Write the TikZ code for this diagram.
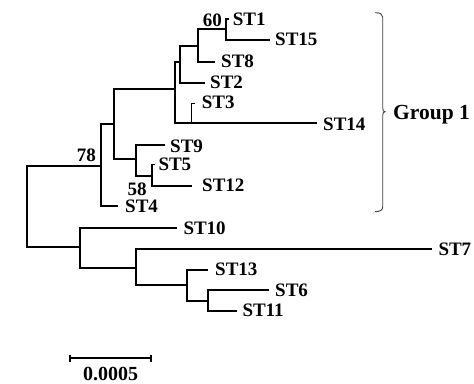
\documentclass[tikz,border=0pt]{standalone}
\usepackage{fontspec}
\setmainfont{Liberation Serif}
\begin{document}
\begin{tikzpicture}[x=1pt,y=-1pt,
  br/.style={line width=2pt, line join=miter},
  thinbr/.style={line width=1.2pt, line join=miter},
  lab/.style={anchor=west, inner sep=0pt, font=\fontsize{19}{19}\selectfont\bfseries},
  bootlab/.style={inner sep=0pt, font=\fontsize{19}{19}\selectfont\bfseries},
  bracepath/.style={line width=0.9pt, black!75}]
\useasboundingbox (0,0) rectangle (474,383);

% internal nodes of the tree
\coordinate (R) at (26.7,206);
\coordinate (A) at (101,166);
\coordinate (B) at (114.3,124);
\coordinate (C) at (174.7,88.5);
\coordinate (F) at (180,61.7);
\coordinate (G) at (198.3,46);
\coordinate (H) at (226,29.3);
\coordinate (I) at (191.7,123.3);
\coordinate (D) at (136,159.3);
\coordinate (E) at (152,176);
\coordinate (J) at (80,247.3);
\coordinate (K) at (135.7,267.7);
\coordinate (L) at (186.7,285);
\coordinate (M) at (208.3,300.7);

% branch tips
\coordinate (t1) at (229,19);
\coordinate (t15) at (270,40);
\coordinate (t8) at (215,61.7);
\coordinate (t2) at (205,82.7);
\coordinate (t3) at (195,103.3);
\coordinate (t14) at (316.7,123.3);
\coordinate (t9) at (165,144.5);
\coordinate (t5) at (155,164.5);
\coordinate (t12) at (192,186);
\coordinate (t4) at (118,205.5);
\coordinate (t10) at (176.7,228.3);
\coordinate (t7) at (431.7,249.3);
\coordinate (t13) at (208.3,270);
\coordinate (t6) at (269,290);
\coordinate (t11) at (236.7,311);

% taxon labels
\node[lab] (l1)  at (232.7,19.5)  {ST1};
\node[lab] (l15) at (275,39.8)    {ST15};
\node[lab] (l8)  at (221,61.5)    {ST8};
\node[lab] (l2)  at (210,82)      {ST2};
\node[lab] (l3)  at (201.7,102)   {ST3};
\node[lab] (l14) at (323,124.5)   {ST14};
\node[lab] (l9)  at (170,146)     {ST9};
\node[lab] (l5)  at (158.3,164.7) {ST5};
\node[lab] (l12) at (202,185.5)   {ST12};
\node[lab] (l4)  at (125,206.3)   {ST4};
\node[lab] (l10) at (183.3,228.5) {ST10};
\node[lab] (l7)  at (438.3,249.5) {ST7};
\node[lab] (l13) at (215,269.5)   {ST13};
\node[lab] (l6)  at (275,290)     {ST6};
\node[lab] (l11) at (242.3,310.5) {ST11};

% bootstrap values
\node[bootlab, anchor=east] (b60) at (222,20.5)  {60};
\node[bootlab, anchor=east] (b78) at (96,155.5)  {78};
\node[bootlab, anchor=west] (b58) at (127.3,189.3) {58};

% branches
\draw[br] (R) |- (A);  \draw[br] (R) |- (J);
\draw[br] (A) |- (B);  \draw[br] (A) |- (t4);
\draw[br] (B) |- (C);  \draw[br] (B) |- (D);
\draw[br] (C) |- (F);  \draw[br] (C) |- (I);
\draw[br] (F) |- (G);  \draw[br] (F) |- (t2);
\draw[br] (G) |- (H);  \draw[br] (G) |- (t8);
\draw[br] (H) |- (t1); \draw[br] (H) |- (t15);
\draw[thinbr] (I) |- (t3); \draw[br] (I) -- (t14);
\draw[br] (D) |- (t9); \draw[br] (D) |- (E);
\draw[thinbr] (E) |- (t5); \draw[thinbr] (E) |- (t12);
\draw[br] (J) |- (t10); \draw[br] (J) |- (K);
\draw[br] (K) |- (t7);  \draw[br] (K) |- (L);
\draw[br] (L) |- (t13); \draw[br] (L) |- (M);
\draw[br] (M) |- (t6);  \draw[br] (M) |- (t11);

% group bracket
\draw[bracepath] (375,12.7) .. controls (380,12.7) and (382.7,14) .. (382.7,17)
  -- (382.7,108) .. controls (382.7,110.5) and (383.5,111.7) .. (385,111.7)
  .. controls (383.5,111.7) and (382.7,113) .. (382.7,115.5)
  -- (382.7,207) .. controls (382.7,210) and (380,211.7) .. (375,211.7);
\node[anchor=base west, inner sep=0pt, font=\fontsize{21.5}{21.5}\selectfont\bfseries] (grp) at (393,119) {Group 1};

% scale bar
\coordinate (s1) at (70,358.3);
\coordinate (s2) at (150.7,358.3);
\draw[br] (s1) -- (s2);
\draw[br] (s1) ++(0,-3.8) -- ++(0,7.6);
\draw[br] (s2) ++(0,-3.8) -- ++(0,7.6);
\node[anchor=base, inner sep=0pt, font=\fontsize{20}{20}\selectfont\bfseries] (scl) at (110.5,380) {0.0005};
\end{tikzpicture}
\end{document}
